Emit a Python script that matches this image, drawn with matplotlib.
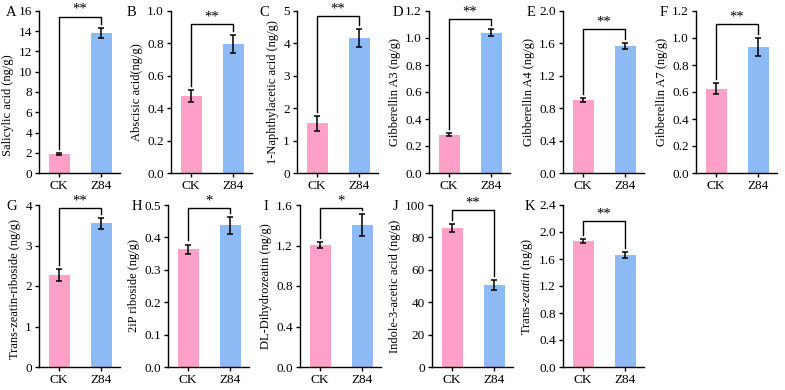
import matplotlib.pyplot as plt
import numpy as np

plt.rcParams['font.family'] = ['Liberation Serif', 'DejaVu Serif']
plt.rcParams['mathtext.fontset'] = 'custom'
plt.rcParams['mathtext.rm'] = 'Liberation Serif'
plt.rcParams['mathtext.it'] = 'Liberation Serif:italic'

# Data
groups = ['CK', 'Z84']
letters = ['A', 'B', 'C', 'D', 'E', 'F', 'G', 'H', 'I', 'J', 'K']
ylabels = ['Salicylic acid (ng/g)', 'Abscisic acid(ng/g)', '1-Naphthylacetic acid (ng/g)',
           'Gibberellin A3 (ng/g)', 'Gibberellin A4 (ng/g)', 'Gibberellin A7 (ng/g)',
           'Trans-zeatin-riboside (ng/g)', '2iP riboside (ng/g)', 'DL-Dihydrozeatin (ng/g)',
           'Indole-3-acetic acid (ng/g)', r'Trans-$\it{zeatin}$ (ng/g)']
ck_mean = [1.85, 0.475, 1.53, 0.285, 0.90, 0.625, 2.28, 0.363, 1.205, 86.0, 1.86]
ck_err = [0.08, 0.035, 0.23, 0.012, 0.02, 0.04, 0.15, 0.015, 0.03, 2.5, 0.03]
z84_mean = [13.8, 0.795, 4.16, 1.04, 1.565, 0.935, 3.55, 0.437, 1.405, 50.5, 1.66]
z84_err = [0.5, 0.055, 0.27, 0.025, 0.035, 0.065, 0.14, 0.025, 0.11, 3.0, 0.04]
y_max = [16, 1.0, 5, 1.2, 2.0, 1.2, 4, 0.5, 1.6, 100, 2.4]
y_step = [2, 0.2, 1, 0.2, 0.4, 0.2, 1, 0.1, 0.4, 20, 0.4]
y_fmt = ['%d', '%.1f', '%d', '%.1f', '%.1f', '%.1f', '%d', '%.1f', '%.1f', '%d', '%.1f']
stars = ['**', '**', '**', '**', '**', '**', '**', '*', '*', '**', '**']
bracket_frac = [0.965, 0.92, 0.97, 0.95, 0.89, 0.92, 0.98, 0.98, 0.98, 0.97, 0.90]

colors = ['#FFA0C8', '#8DBAF5']

# layout in pixels
W, H = 785, 390
ck_px = [59, 191, 317, 449, 583, 716, 59, 188, 320, 452, 583]
row_top = [11, 11, 11, 11, 11, 11, 205, 205, 205, 205, 205]
letter_x = [6, 127, 259, 393, 527, 660, 6, 132, 263, 393, 525]
label_y = [0.42, 0.5, 0.5, 0.5, 0.5, 0.5, 0.48, 0.5, 0.5, 0.5, 0.5]
unit_px = 42
ax_h = 162

fig = plt.figure(figsize=(W / 100, H / 100), dpi=100)

for i in range(len(letters)):
    left = ck_px[i] - 0.48 * unit_px
    width = 1.93 * unit_px
    ax = fig.add_axes([left / W, 1 - (row_top[i] + ax_h) / H, width / W, ax_h / H])

    means = [ck_mean[i], z84_mean[i]]
    errs = [ck_err[i], z84_err[i]]
    x = np.arange(len(groups))
    ax.bar(x, means, width=0.5, color=colors, zorder=2)
    ax.errorbar(x, means, yerr=errs, fmt='none', ecolor='black',
                elinewidth=1.1, capsize=2.5, capthick=1.1, zorder=3)

    ax.set_xlim(-0.48, 1.45)
    ax.set_ylim(0, y_max[i])
    ticks = np.arange(0, y_max[i] + y_step[i] / 2, y_step[i])
    ax.set_yticks(ticks)
    ax.set_yticklabels([y_fmt[i] % t for t in ticks])
    ax.set_xticks(x)
    ax.set_xticklabels(groups)
    ax.tick_params(labelsize=9.5, direction='out', length=3, width=1, pad=2)
    ax.set_ylabel(ylabels[i], fontsize=9, labelpad=3)
    ax.yaxis.label.set_y(label_y[i])
    for s in ['top', 'right']:
        ax.spines[s].set_visible(False)
    for s in ['left', 'bottom']:
        ax.spines[s].set_linewidth(1)

    # significance bracket
    gap = 0.025 * y_max[i]
    top = bracket_frac[i] * y_max[i]
    ax.plot([0, 0, 1, 1],
            [means[0] + errs[0] + gap, top, top, means[1] + errs[1] + gap],
            color='black', lw=1, clip_on=False)
    ax.annotate(stars[i], xy=(0.5, top), xytext=(0, 0.5), textcoords='offset points',
                ha='center', va='bottom', fontsize=10.5, annotation_clip=False)

    fig.text(letter_x[i] / W, 1 - (row_top[i] + 1) / H, letters[i],
             fontsize=10.5, ha='left', va='center')

fig.savefig('out.png', dpi=100)
